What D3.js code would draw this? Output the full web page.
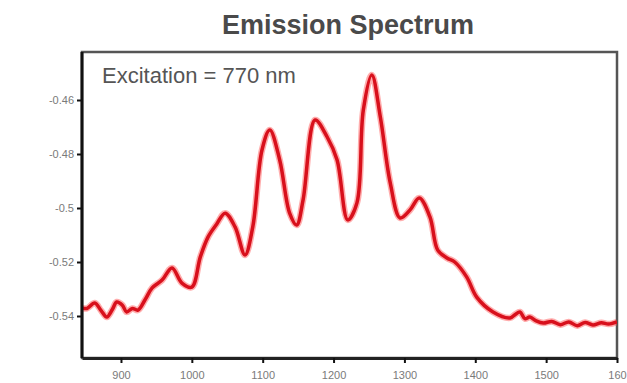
<!DOCTYPE html>
<html>
<head>
<meta charset="utf-8">
<script src="https://cdn.jsdelivr.net/npm/d3@7"></script>
<style>
  html, body { margin: 0; padding: 0; background: #fff; }
  svg { display: block; }
</style>
</head>
<body>
<svg id="chart" width="627" height="383"></svg>
<script>
// ---- data ----
const wavelengths = [845, 852, 863, 872, 880, 888, 894, 902, 908, 916, 924, 934, 944, 958, 972, 986, 1000, 1012, 1023, 1035, 1047, 1061, 1075, 1086, 1099, 1110, 1124, 1138, 1148, 1157, 1174, 1191, 1205, 1220, 1233, 1242, 1254, 1266, 1280, 1294, 1308, 1321, 1336, 1347, 1360, 1371, 1388, 1402, 1425, 1449, 1456, 1463, 1470, 1477, 1486, 1496, 1508, 1520, 1532, 1544, 1555, 1566, 1578, 1588, 1600];
const intensity = [-0.5370, -0.5372, -0.5352, -0.5380, -0.5404, -0.5375, -0.5348, -0.5360, -0.5385, -0.5372, -0.5378, -0.5340, -0.5296, -0.5267, -0.5222, -0.5278, -0.5293, -0.5181, -0.5107, -0.5060, -0.5019, -0.5070, -0.5174, -0.5070, -0.4785, -0.4711, -0.4822, -0.5019, -0.5063, -0.4970, -0.4674, -0.4737, -0.4822, -0.5044, -0.4981, -0.4637, -0.4507, -0.4663, -0.4907, -0.5037, -0.5007, -0.4963, -0.5033, -0.5156, -0.5185, -0.5200, -0.5256, -0.5330, -0.5385, -0.5407, -0.5395, -0.5385, -0.5410, -0.5404, -0.5418, -0.5426, -0.5420, -0.5432, -0.5422, -0.5436, -0.5424, -0.5433, -0.5425, -0.5430, -0.5422];
const xTickValues = [900, 1000, 1100, 1200, 1300, 1400, 1500, 1600];
const xTickLabels = ["900", "1000", "1100", "1200", "1300", "1400", "1500", "160"];
const yTickValues = [-0.46, -0.48, -0.50, -0.52, -0.54];
const yTickLabels = ["-0.46", "-0.48", "-0.5", "-0.52", "-0.54"];
const titleText = "Emission Spectrum";
const noteText = "Excitation = 770 nm";

// ---- layout ----
const svg = d3.select("#chart");
const pL = 82, pR = 617, pT = 52, pB = 358;

const x = d3.scaleLinear().domain([845, 1600]).range([pL, pR]);
const y = d3.scaleLinear().domain([-0.46, -0.54]).range([100, 316]);

const data = wavelengths.map((w, i) => ({ w, v: intensity[i] }));

// title
svg.append("text")
  .attr("x", 348).attr("y", 34)
  .attr("text-anchor", "middle")
  .attr("font-family", "Liberation Sans, Arial, sans-serif")
  .attr("font-size", 27).attr("font-weight", "bold")
  .attr("fill", "#4a4a4a")
  .text(titleText);

// frame
svg.append("rect")
  .attr("x", pL).attr("y", pT)
  .attr("width", pR - pL).attr("height", pB - pT)
  .attr("fill", "#fff")
  .attr("stroke", "#555").attr("stroke-width", 2.5);

// clip
svg.append("clipPath").attr("id", "clip")
  .append("rect").attr("x", pL).attr("y", pT)
  .attr("width", pR - pL).attr("height", pB - pT);

// line
const line = d3.line()
  .x(d => x(d.w)).y(d => y(d.v))
  .curve(d3.curveCatmullRom.alpha(0.5));

svg.append("path")
  .datum(data)
  .attr("clip-path", "url(#clip)")
  .attr("fill", "none")
  .attr("stroke", "#ff4a4a").attr("stroke-opacity", 0.45)
  .attr("stroke-width", 6.5)
  .attr("stroke-linejoin", "round")
  .attr("d", line);
svg.append("path")
  .datum(data)
  .attr("clip-path", "url(#clip)")
  .attr("fill", "none")
  .attr("stroke", "#d8101c")
  .attr("stroke-width", 3.5)
  .attr("stroke-linejoin", "round")
  .attr("d", line);

// axes
const xAxis = d3.axisBottom(x).tickValues(xTickValues)
  .tickFormat((d, i) => xTickLabels[i]).tickSize(5).tickSizeOuter(0);
const gx = svg.append("g").attr("transform", `translate(0,${pB})`).call(xAxis);
gx.select(".domain").attr("stroke", "#222").attr("stroke-width", 3);
gx.selectAll(".tick line").attr("stroke", "#111").attr("stroke-width", 2);
gx.selectAll(".tick text")
  .attr("font-family", "Liberation Sans, Arial, sans-serif")
  .attr("font-size", 11).attr("fill", "#7a7a7a").attr("dy", "1.2em");

const yAxis = d3.axisLeft(y).tickValues(yTickValues)
  .tickFormat((d, i) => yTickLabels[i]).tickSize(5).tickSizeOuter(0);
const gy = svg.append("g").attr("transform", `translate(${pL},0)`).call(yAxis);
gy.select(".domain").attr("stroke", "#111").attr("stroke-width", 3)
  .attr("d", `M0,${pT}V${pB}`);
gy.selectAll(".tick line").attr("stroke", "#111").attr("stroke-width", 2);
gy.selectAll(".tick text")
  .attr("font-family", "Liberation Sans, Arial, sans-serif")
  .attr("font-size", 11).attr("fill", "#7a7a7a");

// annotation
svg.append("text")
  .attr("x", 102).attr("y", 83)
  .attr("font-family", "Liberation Sans, Arial, sans-serif")
  .attr("font-size", 22)
  .attr("fill", "#555")
  .text(noteText);
</script>
</body>
</html>
